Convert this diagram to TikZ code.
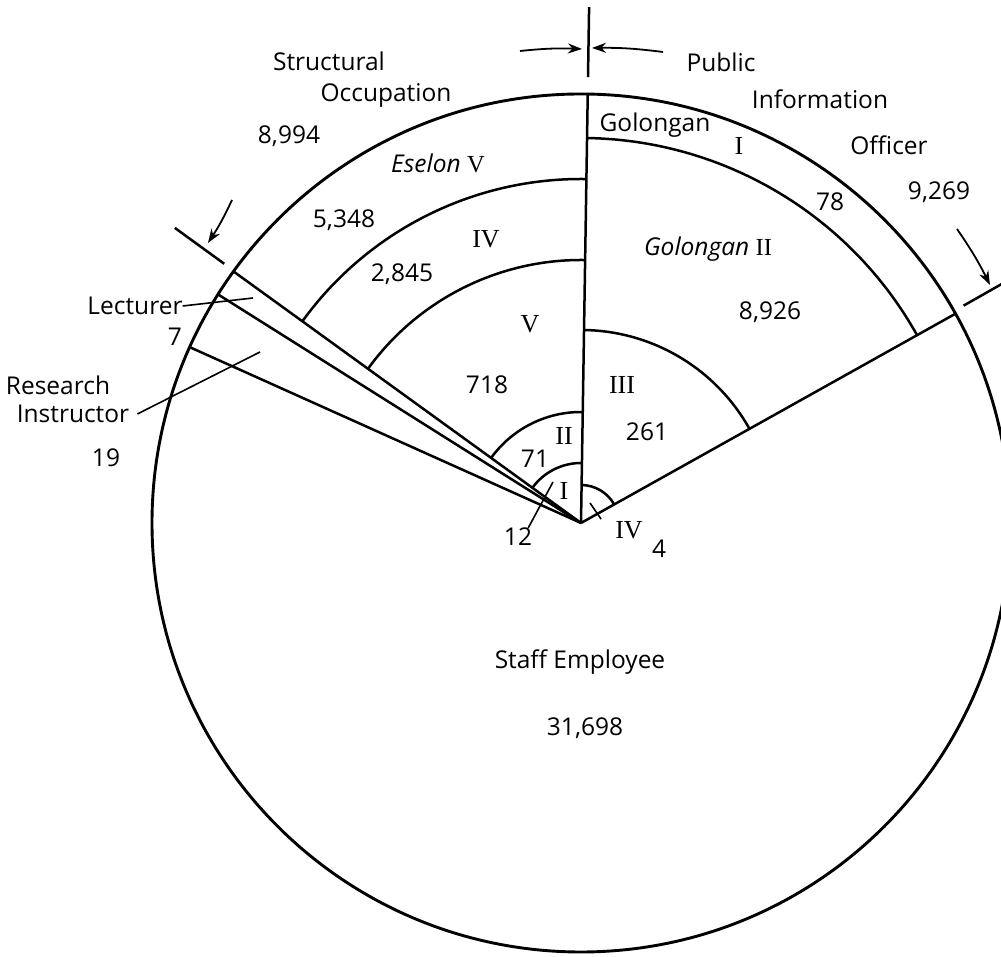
\documentclass[tikz,border=0pt]{standalone}
\usepackage{fontspec}
\setmainfont{Open Sans}
\newfontfamily\romanfont{Liberation Serif}
\usetikzlibrary{arrows.meta}
\begin{document}
\begin{tikzpicture}[x=1pt,y=1pt,
  lbl/.style={font=\fontsize{24.5}{28}\selectfont, inner sep=0pt},
  rn/.style={font=\romanfont\fontsize{26}{28}\selectfont, inner sep=0pt},
  rule/.style={line width=2.5pt},
  rim/.style={line width=2.9pt},
  pointer/.style={line width=1.8pt, -{Stealth[length=14pt,width=10pt]}},
  leader/.style={line width=1.6pt}]
\useasboundingbox (0,0) rectangle (1001,957);
\clip (0,0) rectangle (1001,957);

% centre of the pie and its radius
\coordinate (C) at (581,434);
\def\R{429}
\def\up{89.1}

% outer rim
\draw[rim] (C) circle[radius=\R];

% sector boundaries
\draw[rule] (C) -- ([shift={(\up:\R)}]C);
\draw[rule] (C) -- ([shift={(29.2:\R)}]C);
\draw[rule] (C) -- ([shift={(144.1:\R)}]C);
\draw[rule] (C) -- ([shift={(147.8:\R)}]C);
\draw[rule] (C) -- ([shift={(155.8:\R)}]C);

% rings of the structural occupation sector
\foreach \r in {344,263,111,60}
  \draw[rule] ([shift={(\up:\r)}]C) arc[start angle=\up, end angle=144.1, radius=\r];

% rings of the public information officer sector
\foreach \r in {385,193,38}
  \draw[rule] ([shift={(29.2:\r)}]C) arc[start angle=29.2, end angle=\up, radius=\r];

% extension marks outside the rim
\draw[rule] ([shift={(\up:446)}]C) -- ([shift={(\up:516)}]C);
\draw[rule] ([shift={(144:441)}]C) -- ([shift={(144:502)}]C);
\draw[rule] ([shift={(29.6:440)}]C) -- ([shift={(29.6:500)}]C);

% pointers to the extension marks
\coordinate (pa1) at (520,906); \coordinate (pa2) at (582,908);
\coordinate (pb1) at (663,905); \coordinate (pb2) at (592,909);
\coordinate (pc1) at (232,757); \coordinate (pc2) at (208,714);
\coordinate (pd1) at (957,728); \coordinate (pd2) at (990,672);
\draw[pointer] (pa1) to[bend left=4] (pa2);
\draw[pointer] (pb1) to[bend right=4] (pb2);
\draw[pointer] (pc1) to[bend left=4] (pc2);
\draw[pointer] (pd1) to[bend left=4] (pd2);

% structural occupation labels
\node[lbl] (so1) at (329,896) {Structural};
\node[lbl] (so2) at (386,862) {Occupation};
\node[lbl] (so3) at (289,821) {8,994};
\node[lbl] (es5) at (438,794) {\itshape Eselon {\upshape\romanfont V}};
\node[lbl] (es5n) at (344,737) {5,348};
\node[rn]  (es4) at (486,718) {IV};
\node[lbl] (es4n) at (402,683) {2,845};
\node[rn]  (es3) at (530,633) {V};
\node[lbl] (es3n) at (487,572) {718};
\node[rn]  (es2) at (564,521) {II};
\node[lbl] (es2n) at (535,498) {71};
\node[rn]  (es1) at (564,466) {I};
\node[lbl] (es1n) at (518,420) {12};
\coordinate (es1p) at (553,475);
\draw[leader] (es1n.north east) ++(-4,0) coordinate (es1q) -- (es1p);

% public information officer labels
\node[lbl] (pi1) at (721,895) {Public};
\node[lbl] (pi2) at (820,858) {Information};
\node[lbl] (pi3) at (889,812) {Officer};
\node[lbl] (pi4) at (939,765) {9,269};
\node[lbl] (g1) at (655,832) {Golongan};
\node[rn]  (g1r) at (739,811) {I};
\node[lbl] (g1n) at (830,755) {78};
\node[lbl] (g2) at (708,708) {\itshape Golongan {\upshape\romanfont II}};
\node[lbl] (g2n) at (770,645) {8,926};
\node[rn]  (g3) at (622,572) {III};
\node[lbl] (g3n) at (647,525) {261};
\node[rn]  (g4) at (629,427) {IV};
\node[lbl] (g4n) at (659,408) {4};
\coordinate (g4p) at (590,454);
\draw[leader] (g4.north west) ++(-14,2) coordinate (g4q) -- (g4p);

% the two narrow sectors on the left
\node[lbl] (lec) at (135,651) {Lecturer};
\node[lbl] (lecn) at (175,620) {7};
\coordinate (lecp) at (253,659);
\draw[leader] (lec.east) -- (lecp);
\node[lbl] (ri1) at (58,572) {Research};
\node[lbl] (ri2) at (73,543) {Instructor};
\node[lbl] (rin) at (106,499) {19};
\coordinate (rip) at (260,605);
\draw[leader] ([xshift=8pt]ri2.east) -- (rip);

% staff employee sector
\node[lbl] (st1) at (580,295) {Staff Employee};
\node[lbl] (st2) at (585,229) {31,698};
\end{tikzpicture}
\end{document}
